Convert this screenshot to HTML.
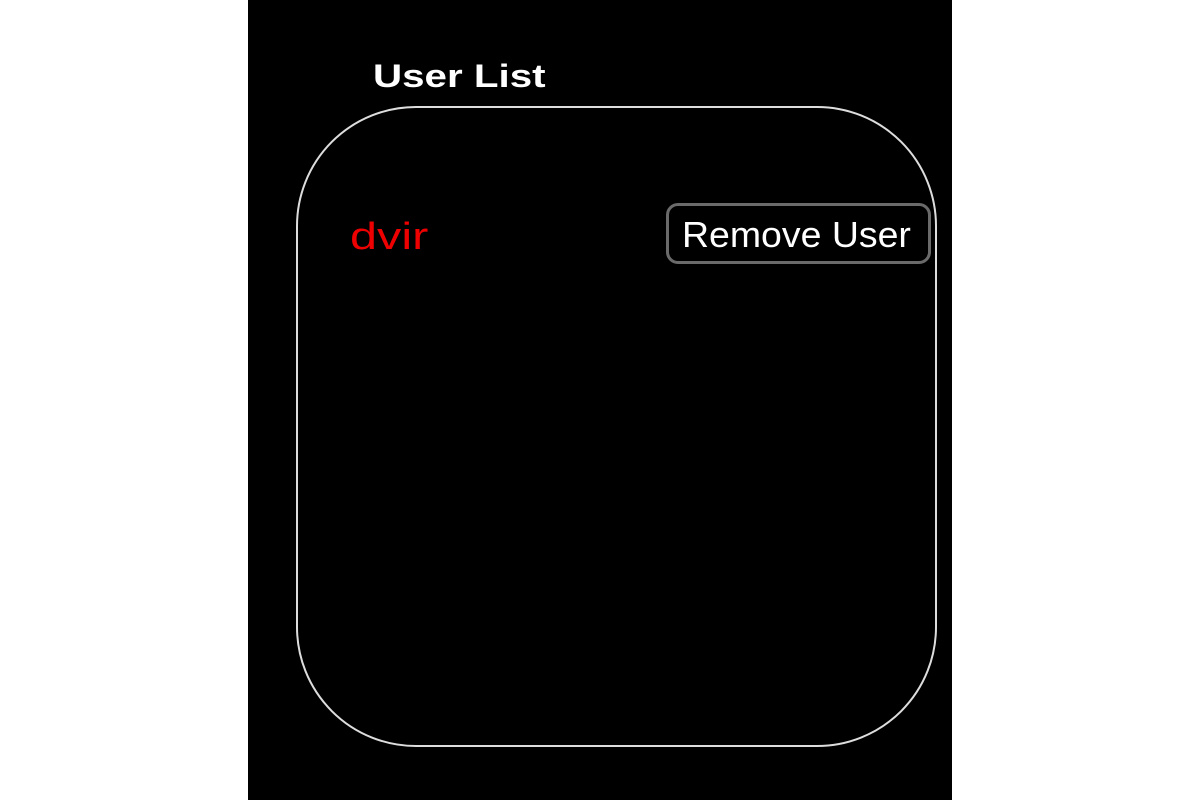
<!DOCTYPE html>
<html><head><style>
html,body{margin:0;padding:0;width:1200px;height:800px;background:#fff;overflow:hidden;font-family:"Liberation Sans",sans-serif}
.panel{position:absolute;left:248px;top:0;width:704px;height:800px;background:#000}
.box{position:absolute;left:296px;top:106px;width:641px;height:641px;border:2px solid #ddd;border-radius:120px;box-sizing:border-box}
.t{position:absolute;white-space:nowrap;transform-origin:0 0;line-height:1}
.btn{position:absolute;left:666px;top:203px;width:265px;height:61px;border:3px solid #6a6a6a;border-radius:12px;box-sizing:border-box}
</style></head><body>
<div class="panel"></div>
<div class="box"></div>
<div class="t" style="left:373px;top:60px;font-size:32px;font-weight:bold;color:#fff;transform:scaleX(1.26)">User List</div>
<div class="t" style="left:350px;top:218px;font-size:38px;color:#e00;transform:scaleX(1.28)">dvir</div>
<div class="btn"></div>
<div class="t" style="left:682px;top:217px;font-size:36px;color:#fff;transform:scaleX(1.04)">Remove User</div>
</body></html>
